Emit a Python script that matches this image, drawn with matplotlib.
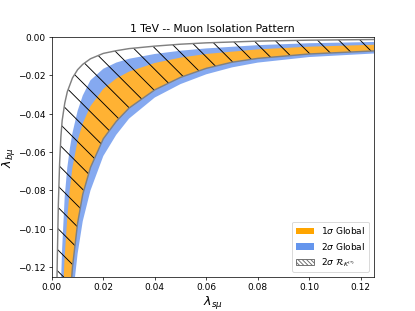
import numpy as np
import matplotlib
matplotlib.use("Agg")
import matplotlib.pyplot as plt
from matplotlib.patches import Patch

# boundaries (x = lambda_s mu, y = lambda_b mu)
# outer edge of the hatched 2 sigma R_K region
hatch_out_x = [0.0015, 0.002, 0.0025, 0.003, 0.0035, 0.004, 0.005, 0.006, 0.008, 0.010,
               0.012, 0.015, 0.020, 0.025, 0.030, 0.040, 0.050, 0.060, 0.080, 0.100, 0.130]
hatch_out_y = [-0.200, -0.124, -0.088, -0.066, -0.052, -0.0435, -0.0345, -0.0285, -0.0213, -0.0170,
               -0.0142, -0.0113, -0.0085, -0.0071, -0.0060, -0.0047, -0.0037, -0.0030, -0.0021, -0.0016, -0.0012]

# outer edge of the 2 sigma global band
sig2_out_x = [0.0030, 0.0035, 0.004, 0.005, 0.006, 0.007, 0.008, 0.010, 0.012, 0.015,
              0.020, 0.025, 0.030, 0.040, 0.050, 0.060, 0.080, 0.100, 0.130]
sig2_out_y = [-0.160, -0.130, -0.110, -0.083, -0.068, -0.058, -0.050, -0.0385, -0.0305, -0.0225,
              -0.0165, -0.0133, -0.0113, -0.0088, -0.0071, -0.0059, -0.0042, -0.0032, -0.0024]

# outer edge of the 1 sigma global band
sig1_out_x = [0.0040, 0.0045, 0.005, 0.006, 0.007, 0.008, 0.010, 0.012, 0.015, 0.020,
              0.025, 0.030, 0.040, 0.050, 0.060, 0.080, 0.100, 0.130]
sig1_out_y = [-0.145, -0.128, -0.114, -0.094, -0.079, -0.068, -0.054, -0.045, -0.036, -0.027,
              -0.0216, -0.0180, -0.0135, -0.0107, -0.0088, -0.0064, -0.0050, -0.0038]

# inner edge of the 1 sigma band (also the inner edge of the hatched region)
sig1_in_x = [0.006, 0.007, 0.008, 0.010, 0.012, 0.015, 0.020, 0.025, 0.030, 0.040,
             0.050, 0.060, 0.070, 0.080, 0.100, 0.130]
sig1_in_y = [-0.165, -0.138, -0.120, -0.097, -0.082, -0.068, -0.0530, -0.0440, -0.0370, -0.0275,
             -0.0210, -0.0163, -0.0131, -0.0111, -0.0088, -0.0069]

# inner edge of the 2 sigma band
sig2_in_x = [0.007, 0.008, 0.009, 0.010, 0.012, 0.015, 0.020, 0.025, 0.030, 0.040,
             0.050, 0.060, 0.070, 0.080, 0.100, 0.130]
sig2_in_y = [-0.165, -0.142, -0.125, -0.113, -0.096, -0.080, -0.0620, -0.0510, -0.0425, -0.0315,
             -0.0245, -0.0194, -0.0158, -0.0133, -0.0104, -0.0082]


def band(ax, x1, y1, x2, y2, **kw):
    """Fill the region between two boundary curves."""
    xs = np.concatenate([x1, x2[::-1]])
    ys = np.concatenate([y1, y2[::-1]])
    return ax.fill(xs, ys, **kw)


def main():
    fig, ax = plt.subplots(figsize=(6.4, 4.8), dpi=415 / 6.4)

    band(ax, sig2_out_x, sig2_out_y, sig2_in_x, sig2_in_y,
         color="#85A9F0", lw=0, zorder=1)
    band(ax, sig1_out_x, sig1_out_y, sig1_in_x, sig1_in_y,
         color="#FFB233", lw=0, zorder=2)
    band(ax, hatch_out_x, hatch_out_y, sig1_in_x, sig1_in_y,
         facecolor="none", edgecolor="k", lw=0, hatch="\\", zorder=3)
    ax.plot(hatch_out_x, hatch_out_y, color="gray", lw=1.6, zorder=4)
    ax.plot(sig1_in_x, sig1_in_y, color="gray", lw=1.6, zorder=4)

    ax.set_xlim(0, 0.125)
    ax.set_ylim(-0.125, 0)
    ax.set_title("1 TeV -- Muon Isolation Pattern")
    ax.set_xlabel(r"$\lambda_{s\mu}$", fontsize=14, labelpad=1.5)
    ax.set_ylabel(r"$\lambda_{b\mu}$", fontsize=14, labelpad=1.5)

    handles = [
        Patch(facecolor="orange", label=r"$1\sigma$ Global"),
        Patch(facecolor="cornflowerblue", label=r"$2\sigma$ Global"),
        Patch(facecolor="white", edgecolor="dimgray", hatch="\\" * 5,
              label=r"$2\sigma\ \mathcal{R}_{K^{(*)}}$"),
    ]
    ax.legend(handles=handles, loc="lower right")

    fig.savefig("out.png")


if __name__ == "__main__":
    main()
